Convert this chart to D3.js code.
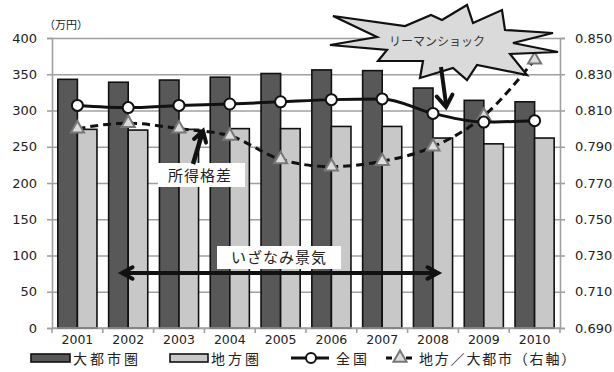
<!DOCTYPE html>
<html>
<head>
<meta charset="utf-8">
<script src="https://cdn.jsdelivr.net/npm/d3@7"></script>
<style>
  html, body { margin: 0; padding: 0; background: #fff; }
  svg { display: block; }
  text { font-family: "DejaVu Sans", sans-serif; }
  .jp { font-family: "Noto Sans CJK JP", sans-serif; }
</style>
</head>
<body>
<svg id="chart" width="614" height="372"></svg>
<script>
// Income by region (万円) and the ratio regional / metropolitan (right axis)
const years = ["2001","2002","2003","2004","2005","2006","2007","2008","2009","2010"];
const metroIncome  = [343, 339, 342, 346, 351, 356, 355, 331, 314, 312];   // 大都市圏
const localIncome  = [274, 273, 274, 275, 275, 278, 278, 262, 254, 262];   // 地方圏
const nationalIncome = [307, 304, 307, 309, 312, 315, 316, 296, 284, 286]; // 全国
const ratioLocalMetro = [0.800, 0.803, 0.800, 0.796, 0.783, 0.779, 0.782, 0.790, 0.807, 0.838]; // 地方／大都市
const leftTicks  = [0, 50, 100, 150, 200, 250, 300, 350, 400];
const rightTicks = [0.690, 0.710, 0.730, 0.750, 0.770, 0.790, 0.810, 0.830, 0.850];

const svg = d3.select("#chart");
const plot = { left: 52, right: 560, top: 38, bottom: 328 };

const x0 = d3.scaleBand().domain(years).range([plot.left, plot.right])
  .paddingInner(0.23).paddingOuter(0.115);
const x1 = d3.scaleBand().domain(["metro", "local"]).range([0, x0.bandwidth()]);
const yL = d3.scaleLinear().domain([0, 400]).range([plot.bottom, plot.top]);
const yR = d3.scaleLinear().domain([0.69, 0.85]).range([plot.bottom, plot.top]);
const step = x0.step();
const cx = d => x0(d) + x0.bandwidth() / 2;

const gridColor = "#a0a0a0";

// horizontal gridlines
const grid = svg.append("g")
  .attr("transform", `translate(${plot.left},0)`)
  .call(d3.axisLeft(yL).tickValues(leftTicks).tickSize(-(plot.right - plot.left)).tickFormat(""));
grid.select(".domain").remove();
grid.selectAll("line").attr("stroke", gridColor).attr("stroke-width", 1.6);

// bars
const groups = svg.append("g").selectAll("g").data(years).join("g")
  .attr("transform", d => `translate(${x0(d)},0)`);
groups.append("rect")
  .attr("x", x1("metro")).attr("width", x1.bandwidth())
  .attr("y", (d, i) => yL(metroIncome[i]))
  .attr("height", (d, i) => yL(0) - yL(metroIncome[i]))
  .attr("fill", "#585858").attr("stroke", "#111").attr("stroke-width", 1.6);
groups.append("rect")
  .attr("x", x1("local")).attr("width", x1.bandwidth())
  .attr("y", (d, i) => yL(localIncome[i]))
  .attr("height", (d, i) => yL(0) - yL(localIncome[i]))
  .attr("fill", "#c8c8c8").attr("stroke", "#111").attr("stroke-width", 1.6);

// left axis
const axL = svg.append("g").attr("transform", `translate(${plot.left},0)`)
  .call(d3.axisLeft(yL).tickValues(leftTicks).tickSize(5).tickPadding(10));
axL.select(".domain").attr("stroke", gridColor).attr("stroke-width", 1.6);
axL.selectAll("line").attr("stroke", gridColor).attr("stroke-width", 1.6);
axL.selectAll("text").attr("font-size", 13).attr("fill", "#222")
  .attr("font-family", "DejaVu Sans, sans-serif");

// right axis
const axR = svg.append("g").attr("transform", `translate(${plot.right},0)`)
  .call(d3.axisRight(yR).tickValues(rightTicks).tickSize(5).tickPadding(10).tickFormat(d3.format(".3f")));
axR.select(".domain").attr("stroke", gridColor).attr("stroke-width", 1.6);
axR.selectAll("line").attr("stroke", gridColor).attr("stroke-width", 1.6);
axR.selectAll("text").attr("font-size", 13).attr("fill", "#222")
  .attr("font-family", "DejaVu Sans, sans-serif");

// bottom axis: baseline, ticks between categories, year labels
svg.append("line").attr("x1", plot.left).attr("x2", plot.right)
  .attr("y1", plot.bottom).attr("y2", plot.bottom)
  .attr("stroke", gridColor).attr("stroke-width", 1.6);
svg.append("g").selectAll("line").data(d3.range(years.length + 1)).join("line")
  .attr("x1", i => plot.left + i * step).attr("x2", i => plot.left + i * step)
  .attr("y1", plot.bottom).attr("y2", plot.bottom + 5)
  .attr("stroke", gridColor).attr("stroke-width", 1.6);
svg.append("g").selectAll("text").data(years).join("text")
  .attr("x", d => cx(d)).attr("y", 344)
  .attr("text-anchor", "middle").attr("font-size", 12.5).attr("fill", "#222")
  .text(d => d);

// unit label
svg.append("text").attr("class", "jp").attr("x", 44).attr("y", 29)
  .attr("font-size", 11).attr("fill", "#222").text("（万円）");

// ratio line (dashed, triangles) on right axis
const ratioLine = d3.line().x((d, i) => cx(years[i])).y(d => yR(d)).curve(d3.curveMonotoneX);
svg.append("path").datum(ratioLocalMetro).attr("d", ratioLine)
  .attr("fill", "none").attr("stroke", "#111").attr("stroke-width", 3)
  .attr("stroke-dasharray", "8,5");
const tri = d3.symbol().type(d3.symbolTriangle).size(75);
svg.append("g").selectAll("path").data(ratioLocalMetro).join("path")
  .attr("d", tri)
  .attr("transform", (d, i) => `translate(${cx(years[i])},${yR(d)})`)
  .attr("fill", "#dcdcdc").attr("stroke", "#777").attr("stroke-width", 2);

// national line (solid, circles) on left axis
const natLine = d3.line().x((d, i) => cx(years[i])).y(d => yL(d)).curve(d3.curveMonotoneX);
svg.append("path").datum(nationalIncome).attr("d", natLine)
  .attr("fill", "none").attr("stroke", "#111").attr("stroke-width", 3);
svg.append("g").selectAll("circle").data(nationalIncome).join("circle")
  .attr("cx", (d, i) => cx(years[i])).attr("cy", d => yL(d)).attr("r", 5.5)
  .attr("fill", "#fff").attr("stroke", "#111").attr("stroke-width", 2);

// annotation arrows
function chevron(g, tx, ty, angle, len, spread) {
  const a1 = angle + Math.PI - spread, a2 = angle + Math.PI + spread;
  g.append("path")
    .attr("d", `M${tx + len * Math.cos(a1)},${ty + len * Math.sin(a1)}L${tx},${ty}L${tx + len * Math.cos(a2)},${ty + len * Math.sin(a2)}`)
    .attr("fill", "none").attr("stroke", "#111").attr("stroke-width", 4)
    .attr("stroke-linejoin", "miter").attr("stroke-linecap", "round");
}
const ann = svg.append("g");

// いざなみ景気
ann.append("rect").attr("x", 217).attr("y", 246).attr("width", 124).attr("height", 23).attr("fill", "#fff");
ann.append("text").attr("class", "jp").attr("x", 279).attr("y", 263)
  .attr("text-anchor", "middle").attr("font-size", 15).attr("letter-spacing", 1).attr("fill", "#222")
  .text("いざなみ景気");
ann.append("line").attr("x1", 124).attr("x2", 436).attr("y1", 273).attr("y2", 273)
  .attr("stroke", "#111").attr("stroke-width", 4);
chevron(ann, 122, 273, Math.PI, 12, 0.5);
chevron(ann, 438, 273, 0, 12, 0.5);

// 所得格差
ann.append("rect").attr("x", 158).attr("y", 163).attr("width", 87).attr("height", 24).attr("fill", "#fff");
ann.append("text").attr("class", "jp").attr("x", 200).attr("y", 181)
  .attr("text-anchor", "middle").attr("font-size", 15).attr("letter-spacing", 1).attr("fill", "#222")
  .text("所得格差");
ann.append("line").attr("x1", 193).attr("y1", 164).attr("x2", 202).attr("y2", 134)
  .attr("stroke", "#111").attr("stroke-width", 4.5);
chevron(ann, 203, 131, Math.atan2(-33, 10), 12, 0.55);

// リーマンショック starburst
const burst = [[333,16],[405,26],[431,15],[442,20],[467,5],[473,23],[502,10],[505,30],[553,33],
  [513,43],[558,52],[510,54],[527,75],[477,65],[467,80],[453,68],[420,78],[423,61],[378,61],
  [387,50],[330,45],[377,37]];
ann.append("path").attr("d", "M" + burst.join("L") + "Z")
  .attr("fill", "#dadada").attr("stroke", "#111").attr("stroke-width", 2.2)
  .attr("stroke-linejoin", "miter");
ann.append("text").attr("class", "jp").attr("x", 437).attr("y", 46)
  .attr("text-anchor", "middle").attr("font-size", 12).attr("fill", "#333")
  .text("リーマンショック");
ann.append("line").attr("x1", 441).attr("y1", 67).attr("x2", 446).attr("y2", 104)
  .attr("stroke", "#111").attr("stroke-width", 4);
chevron(ann, 446, 107, Math.atan2(40, 5), 14, 0.6);

// legend
const lg = svg.append("g");
const ly = 358;
const lt = 364;
lg.append("rect").attr("x", 31).attr("y", ly - 4).attr("width", 39).attr("height", 8)
  .attr("fill", "#585858").attr("stroke", "#111").attr("stroke-width", 1.6);
lg.append("text").attr("class", "jp").attr("x", 73).attr("y", lt)
  .attr("font-size", 14).attr("letter-spacing", 3).attr("fill", "#222").text("大都市圏");
lg.append("rect").attr("x", 170).attr("y", ly - 4).attr("width", 38).attr("height", 8)
  .attr("fill", "#c8c8c8").attr("stroke", "#111").attr("stroke-width", 1.6);
lg.append("text").attr("class", "jp").attr("x", 211).attr("y", lt)
  .attr("font-size", 14).attr("letter-spacing", 3).attr("fill", "#222").text("地方圏");
lg.append("line").attr("x1", 291).attr("x2", 329).attr("y1", ly).attr("y2", ly)
  .attr("stroke", "#111").attr("stroke-width", 3);
lg.append("circle").attr("cx", 311).attr("cy", ly).attr("r", 5)
  .attr("fill", "#fff").attr("stroke", "#111").attr("stroke-width", 2);
lg.append("text").attr("class", "jp").attr("x", 336).attr("y", lt)
  .attr("font-size", 14).attr("letter-spacing", 3).attr("fill", "#222").text("全国");
lg.append("line").attr("x1", 386).attr("x2", 414).attr("y1", ly).attr("y2", ly)
  .attr("stroke", "#111").attr("stroke-width", 3).attr("stroke-dasharray", "6,4");
lg.append("path").attr("d", tri).attr("transform", `translate(400,${ly})`)
  .attr("fill", "#dcdcdc").attr("stroke", "#777").attr("stroke-width", 2);
lg.append("text").attr("class", "jp").attr("x", 419).attr("y", lt)
  .attr("font-size", 14).attr("letter-spacing", 1.8).attr("fill", "#222").text("地方／大都市（右軸）");
</script>
</body>
</html>
